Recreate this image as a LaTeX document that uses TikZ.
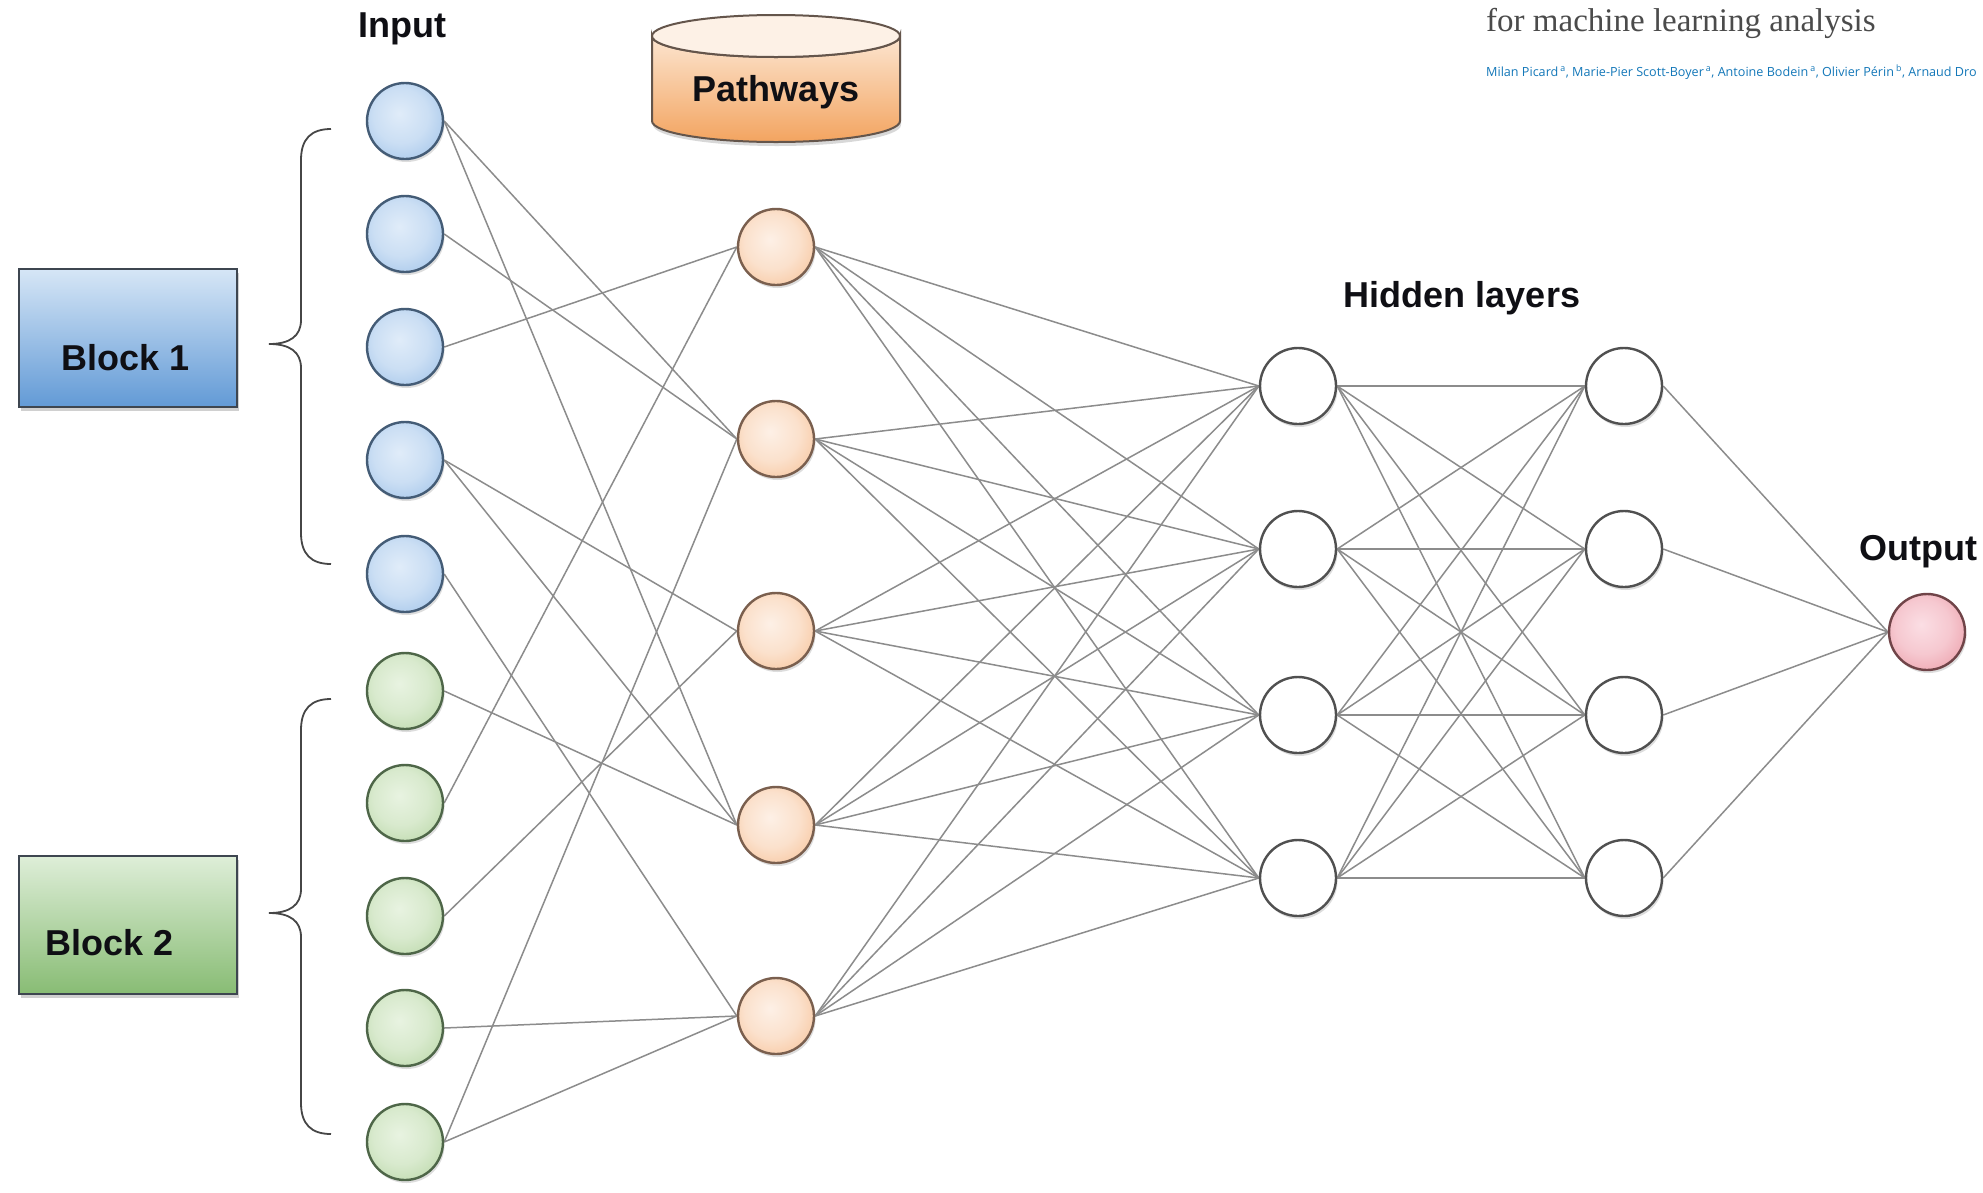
\documentclass[tikz,border=0pt]{standalone}
\usepackage{fontspec}
\setmainfont{Liberation Sans}
\newfontfamily\serifttl{Liberation Serif}
\newfontfamily\authfont{Open Sans}
\usetikzlibrary{backgrounds,shadows}

\definecolor{linegray}{RGB}{140,140,140}
\definecolor{bluein}{RGB}{224,236,249}
\definecolor{blueout}{RGB}{140,182,228}
\definecolor{blueline}{RGB}{68,92,118}
\definecolor{greenin}{RGB}{232,243,225}
\definecolor{greenout}{RGB}{170,206,148}
\definecolor{greenline}{RGB}{78,102,72}
\definecolor{orgin}{RGB}{253,240,230}
\definecolor{orgout}{RGB}{245,180,128}
\definecolor{orgline}{RGB}{122,95,78}
\definecolor{redin}{RGB}{251,222,228}
\definecolor{redout}{RGB}{230,134,147}
\definecolor{redline}{RGB}{112,68,72}
\definecolor{hidline}{RGB}{80,80,80}
\definecolor{boxline}{RGB}{62,70,80}
\definecolor{boxonetop}{RGB}{214,230,246}
\definecolor{boxonebot}{RGB}{98,154,214}
\definecolor{boxtwotop}{RGB}{222,238,216}
\definecolor{boxtwobot}{RGB}{136,188,116}
\definecolor{cyltop}{RGB}{252,229,208}
\definecolor{cylbot}{RGB}{243,164,96}
\definecolor{cylcap}{RGB}{253,241,230}
\definecolor{cylline}{RGB}{100,85,75}
\definecolor{bracecol}{RGB}{70,70,70}
\definecolor{titlegray}{RGB}{75,75,75}
\definecolor{authblue}{RGB}{20,120,185}
\definecolor{labeltext}{RGB}{15,15,20}

\pgfdeclareradialshading{bluesh}{\pgfpoint{-4bp}{5bp}}{color(0bp)=(bluein); color(18bp)=(bluein!75!blueout); color(44bp)=(blueout); color(60bp)=(blueout)}
\pgfdeclareradialshading{greensh}{\pgfpoint{-4bp}{5bp}}{color(0bp)=(greenin); color(18bp)=(greenin!75!greenout); color(44bp)=(greenout); color(60bp)=(greenout)}
\pgfdeclareradialshading{orgsh}{\pgfpoint{-4bp}{5bp}}{color(0bp)=(orgin); color(18bp)=(orgin!75!orgout); color(44bp)=(orgout); color(60bp)=(orgout)}
\pgfdeclareradialshading{redsh}{\pgfpoint{-4bp}{5bp}}{color(0bp)=(redin); color(18bp)=(redin!75!redout); color(44bp)=(redout); color(60bp)=(redout)}

\tikzset{
  neuron/.style={circle, minimum size=76pt, inner sep=0pt, line width=2.4pt,
    drop shadow={shadow xshift=1.5pt, shadow yshift=-3pt, opacity=0.22, fill=black!60}},
  inblue/.style={neuron, draw=blueline, shade, shading=bluesh},
  ingreen/.style={neuron, draw=greenline, shade, shading=greensh},
  pathnode/.style={neuron, draw=orgline, shade, shading=orgsh},
  hidnode/.style={neuron, draw=hidline, fill=white},
  outnode/.style={neuron, draw=redline, shade, shading=redsh},
  conn/.style={draw=linegray, line width=1.5pt},
  lbl/.style={font=\fontsize{36}{40}\selectfont\bfseries, text=labeltext, anchor=base, inner sep=0pt},
  blockbox/.style={rectangle, draw=boxline, line width=2pt, minimum width=218pt, minimum height=138pt, inner sep=0pt,
    drop shadow={shadow xshift=2pt, shadow yshift=-4pt, opacity=0.3, fill=black!60}},
  bracepath/.style={draw=bracecol, line width=1.8pt},
}

\begin{document}
\begin{tikzpicture}[x=1pt,y=-1pt]
\useasboundingbox (0,0) rectangle (1983,1192);

% ---------- header text ----------
\node[anchor=base west, inner sep=0pt, font=\serifttl\fontsize{33}{36}\selectfont, text=titlegray] (title) at (1486,31) {for machine learning analysis};
\node[anchor=base west, inner sep=0pt, font=\authfont\fontsize{12.6}{15}\selectfont, text=authblue] (authors) at (1486,76)
  {Milan Picard\,\textsuperscript{a}, Marie-Pier Scott-Boyer\,\textsuperscript{a}, Antoine Bodein\,\textsuperscript{a}, Olivier Périn\,\textsuperscript{b}, Arnaud Dro};

% ---------- blocks ----------
\node[blockbox, top color=boxonetop, bottom color=boxonebot] (b1) at (128,338) {};
\node[lbl] (b1t) at (126,370) {Block 1};
\node[blockbox, top color=boxtwotop, bottom color=boxtwobot] (b2) at (128,925) {};
\node[lbl] (b2t) at (110,955) {Block 2};

% ---------- braces ----------
\draw[bracepath] (331,129) .. controls (311,129) and (301,139) .. (301,160) -- (301,320)
  .. controls (301,336) and (290,344) .. (269,344)
  .. controls (290,344) and (301,352) .. (301,368) -- (301,533)
  .. controls (301,554) and (311,564) .. (331,564);
\draw[bracepath] (331,699) .. controls (311,699) and (301,709) .. (301,730) -- (301,889)
  .. controls (301,905) and (290,913) .. (269,913)
  .. controls (290,913) and (301,921) .. (301,937) -- (301,1103)
  .. controls (301,1124) and (311,1134) .. (331,1134);

% ---------- pathways cylinder ----------
\path[draw=cylline, line width=2pt, top color=cyltop, bottom color=cylbot,
      drop shadow={shadow xshift=1pt, shadow yshift=-4pt, opacity=0.25, fill=black!60}]
  (652,36) -- (652,121) arc[start angle=180, end angle=0, x radius=124, y radius=21]
  -- (900,36) arc[start angle=0, end angle=180, x radius=124, y radius=21] -- cycle;
\draw[draw=cylline, line width=2pt, fill=cylcap] (776,36) ellipse [x radius=124, y radius=21];
\node[lbl] (pathways) at (776,101) {Pathways};

% ---------- layer labels ----------
\node[lbl] (inputlbl) at (402,37) {Input};
\node[lbl] (hiddenlbl) at (1462,307) {Hidden layers};
\node[lbl] (outputlbl) at (1918,560) {Output};

% ---------- neurons ----------
\foreach \n/\y in {1/121,2/234,3/347,4/460,5/574}
  \node[inblue] (i\n) at (405,\y) {};
\foreach \n/\y in {6/691,7/803,8/916,9/1028,10/1142}
  \node[ingreen] (i\n) at (405,\y) {};
\foreach \n/\y in {1/247,2/439,3/631,4/825,5/1016}
  \node[pathnode] (p\n) at (776,\y) {};
\foreach \n/\y in {1/386,2/549,3/715,4/878}{
  \node[hidnode] (h\n) at (1298,\y) {};
  \node[hidnode] (k\n) at (1624,\y) {};
}
\node[outnode] (o) at (1927,632) {};

% ---------- connectors ----------
\begin{pgfonlayer}{background}
\fill[white] (0,0) rectangle (1983,1192);
\foreach \a/\b in {1/2,1/4,2/2,3/1,4/3,4/4,5/5,6/4,7/1,8/3,9/5,10/5,10/2}
  \draw[conn] (i\a.east) -- (p\b.west);
\foreach \a in {1,...,5}
  \foreach \b in {1,...,4}
    \draw[conn] (p\a.east) -- (h\b.west);
\foreach \a in {1,...,4}
  \foreach \b in {1,...,4}
    \draw[conn] (h\a.east) -- (k\b.west);
\foreach \a in {1,...,4}
  \draw[conn] (k\a.east) -- (o.west);
\end{pgfonlayer}
\end{tikzpicture}
\end{document}
